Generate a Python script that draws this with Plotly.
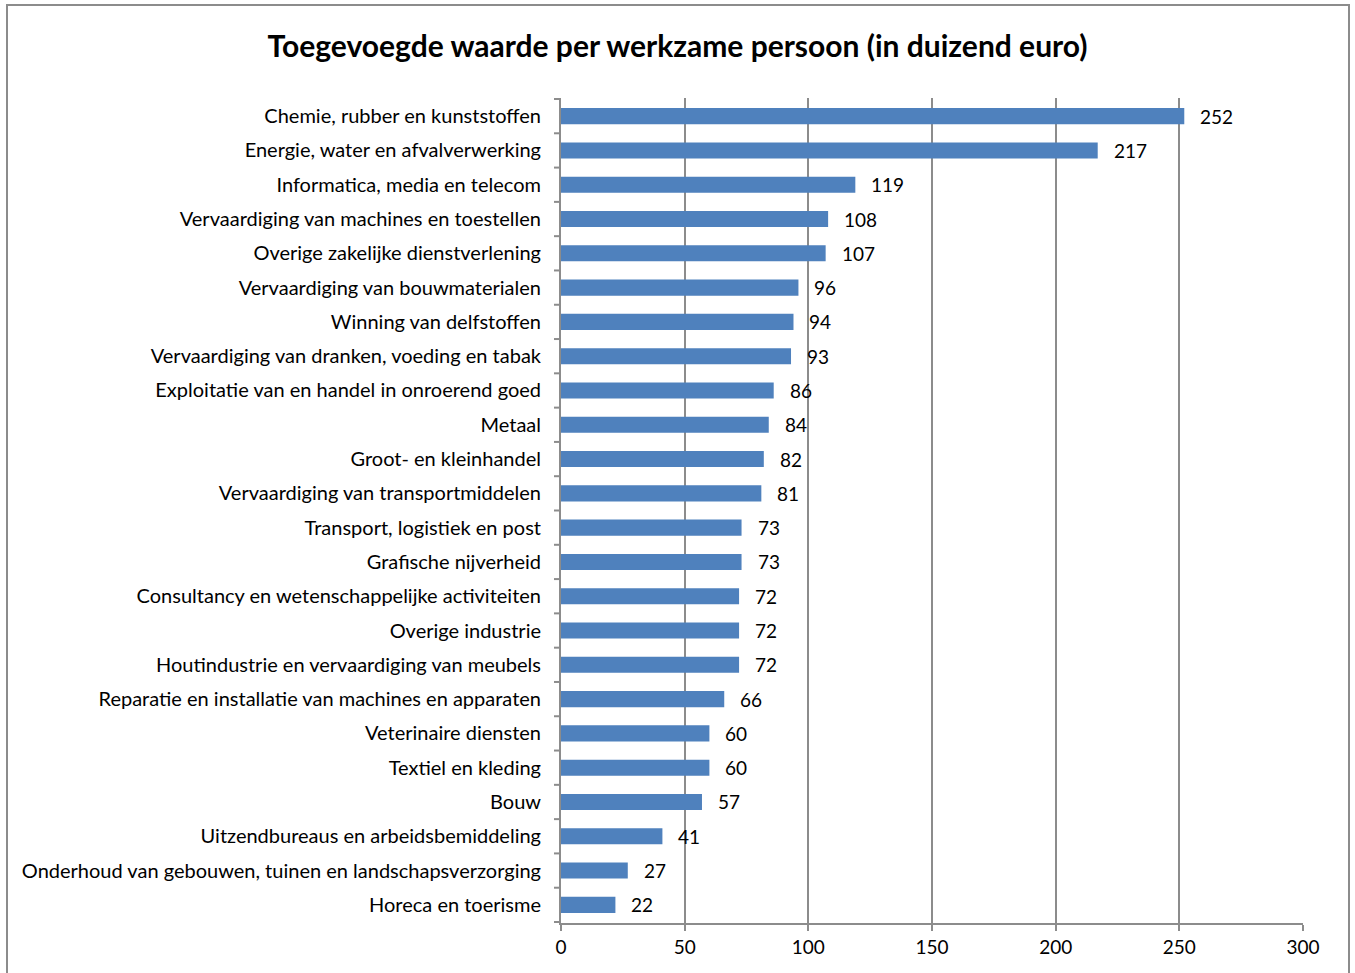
import plotly.graph_objects as go

categories = [
    "Chemie, rubber en kunststoffen",
    "Energie, water en afvalverwerking",
    "Informatica, media en telecom",
    "Vervaardiging van machines en toestellen",
    "Overige zakelijke dienstverlening",
    "Vervaardiging van bouwmaterialen",
    "Winning van delfstoffen",
    "Vervaardiging van dranken, voeding en tabak",
    "Exploitatie van en handel in onroerend goed",
    "Metaal",
    "Groot- en kleinhandel",
    "Vervaardiging van transportmiddelen",
    "Transport, logistiek en post",
    "Grafische nijverheid",
    "Consultancy en wetenschappelijke activiteiten",
    "Overige industrie",
    "Houtindustrie en vervaardiging van meubels",
    "Reparatie en installatie van machines en apparaten",
    "Veterinaire diensten",
    "Textiel en kleding",
    "Bouw",
    "Uitzendbureaus en arbeidsbemiddeling",
    "Onderhoud van gebouwen, tuinen en landschapsverzorging",
    "Horeca en toerisme",
]
values = [252, 217, 119, 108, 107, 96, 94, 93, 86, 84, 82, 81, 73, 73, 72, 72, 72, 66, 60, 60, 57, 41, 27, 22]
x_ticks = [0, 50, 100, 150, 200, 250, 300]

FONT = "Lato, Calibri, Carlito, sans-serif"

fig = go.Figure()
fig.add_trace(go.Bar(
    x=values, y=categories, orientation="h",
    marker=dict(color="#4F81BD", line=dict(color="#4F81BD", width=0)),
    width=0.47,
))
for c, v in zip(categories, values):
    fig.add_annotation(x=v, y=c, text=str(v), showarrow=False, xanchor="left",
                       xshift=14, font=dict(size=19, color="#000000", family=FONT))

L, R, T, B = 561, 1303, 98, 923
W, H = R - L, B - T
def px(x):
    return (x - L) / W
def py(y):
    return (B - y) / H

fig.add_shape(type="rect", xref="paper", yref="paper",
              x0=px(7), x1=px(1349), y0=py(990), y1=py(5),
              line=dict(color="#8C8C8C", width=2), fillcolor="rgba(0,0,0,0)", layer="below")

fig.update_layout(
    width=1355, height=973,
    margin=dict(l=L, r=1355 - R, t=T, b=973 - B, pad=0),
    paper_bgcolor="white", plot_bgcolor="white",
    showlegend=False,
    bargap=0.53,
    title=dict(text="<b>Toegevoegde waarde per werkzame persoon (in duizend euro)</b>",
               x=0.5, xanchor="center", y=1 - 46 / 973, yanchor="middle",
               font=dict(size=30, family=FONT, color="#000000")),
    font=dict(family=FONT, size=20, color="#000000"),
    xaxis=dict(range=[0, 300], tickvals=x_ticks, showgrid=True, gridcolor="#8C8C8C", gridwidth=2,
               zeroline=False, showline=True, linecolor="#8C8C8C", linewidth=2,
               ticks="outside", ticklen=6, tickcolor="#8C8C8C", tickwidth=2,
               tickfont=dict(size=19, family=FONT), mirror=False),
    yaxis=dict(autorange="reversed", showgrid=False, zeroline=False, showline=True,
               linecolor="#8C8C8C", linewidth=2, ticks="", ticklabelstandoff=14,
               tickfont=dict(size=20, family=FONT)),
)
# category boundary tick marks on y-axis
for i in range(len(categories) + 1):
    fig.add_shape(type="line", xref="paper", yref="y", x0=px(554), x1=0,
                  y0=i - 0.5, y1=i - 0.5, line=dict(color="#8C8C8C", width=2))

fig.write_html("out.html", config={"displayModeBar": False},
               post_script="document.body.style.margin='0px';document.body.style.overflow='hidden';")
